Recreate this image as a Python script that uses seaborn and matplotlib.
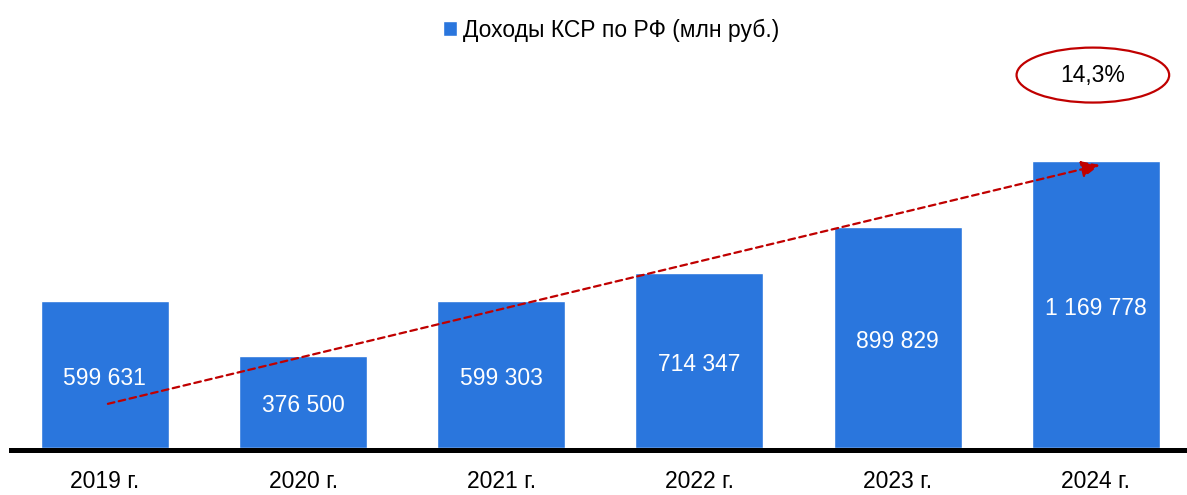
import matplotlib
matplotlib.use("Agg")
import matplotlib.pyplot as plt
import seaborn as sns
from matplotlib.patches import Ellipse

# Data
YEARS = ["2019 г.", "2020 г.", "2021 г.", "2022 г.", "2023 г.", "2024 г."]
INCOME = [599631, 376500, 599303, 714347, 899829, 1169778]
SERIES_NAME = "Доходы КСР по РФ (млн руб.)"
GROWTH_LABEL = "14,3%"
# trend arrow (category index, value)
TREND_START = (0.015, 180000)
TREND_END = (5.02, 1153700)
GROWTH_POS = (4.985, 1520000)

BAR_COLOR = "#2A76DD"
RED = "#C00000"
FS = 16.5

sns.set_style("white")
plt.rcParams["font.family"] = ["Liberation Sans Narrow", "Liberation Sans", "DejaVu Sans"]
plt.rcParams["text.color"] = "black"
plt.rcParams["xtick.color"] = "black"

fig = plt.figure(figsize=(11.87, 4.95), dpi=100)
ax = fig.add_axes([11 / 1187, 0.0899, 1176 / 1187, 0.8293])

sns.barplot(x=YEARS, y=INCOME, color=BAR_COLOR, saturation=1, width=0.646,
            label=SERIES_NAME, ax=ax)

labels = [f"{v:,}".replace(",", " ") for v in INCOME]
ax.bar_label(ax.containers[0], labels=labels, label_type="center",
             color="white", fontsize=FS, padding=-3)

ax.set_xlim(-0.474, 5.46)
ax.set_ylim(-10200, 1663000)
ax.set_yticks([])
ax.set_xlabel("")
ax.set_ylabel("")
for s in ["top", "right", "left"]:
    ax.spines[s].set_visible(False)
ax.spines["bottom"].set_linewidth(3.6)
ax.spines["bottom"].set_color("black")
ax.tick_params(axis="x", length=0, pad=14, labelsize=FS, labelcolor="black")

# trend arrow
ax.annotate("", xy=TREND_END, xytext=TREND_START,
            arrowprops=dict(arrowstyle="-|>,head_length=1.1,head_width=0.5",
                            color=RED, lw=1.6, linestyle=(0, (3, 2)),
                            shrinkA=0, shrinkB=0))

# growth ellipse
ax.add_patch(Ellipse(GROWTH_POS, width=0.77, height=224000, facecolor="white",
                     edgecolor=RED, lw=1.6, clip_on=False))
ax.text(GROWTH_POS[0], GROWTH_POS[1], GROWTH_LABEL, ha="center", va="center",
        fontsize=FS, color="black")

leg = ax.legend(loc="center", bbox_to_anchor=(611 / 1187, 1 - 30 / 495),
                bbox_transform=fig.transFigure, frameon=False, fontsize=FS,
                handlelength=0.6, handleheight=0.6, handletextpad=0.25,
                labelcolor="black")

fig.savefig("out.png", dpi=100)
